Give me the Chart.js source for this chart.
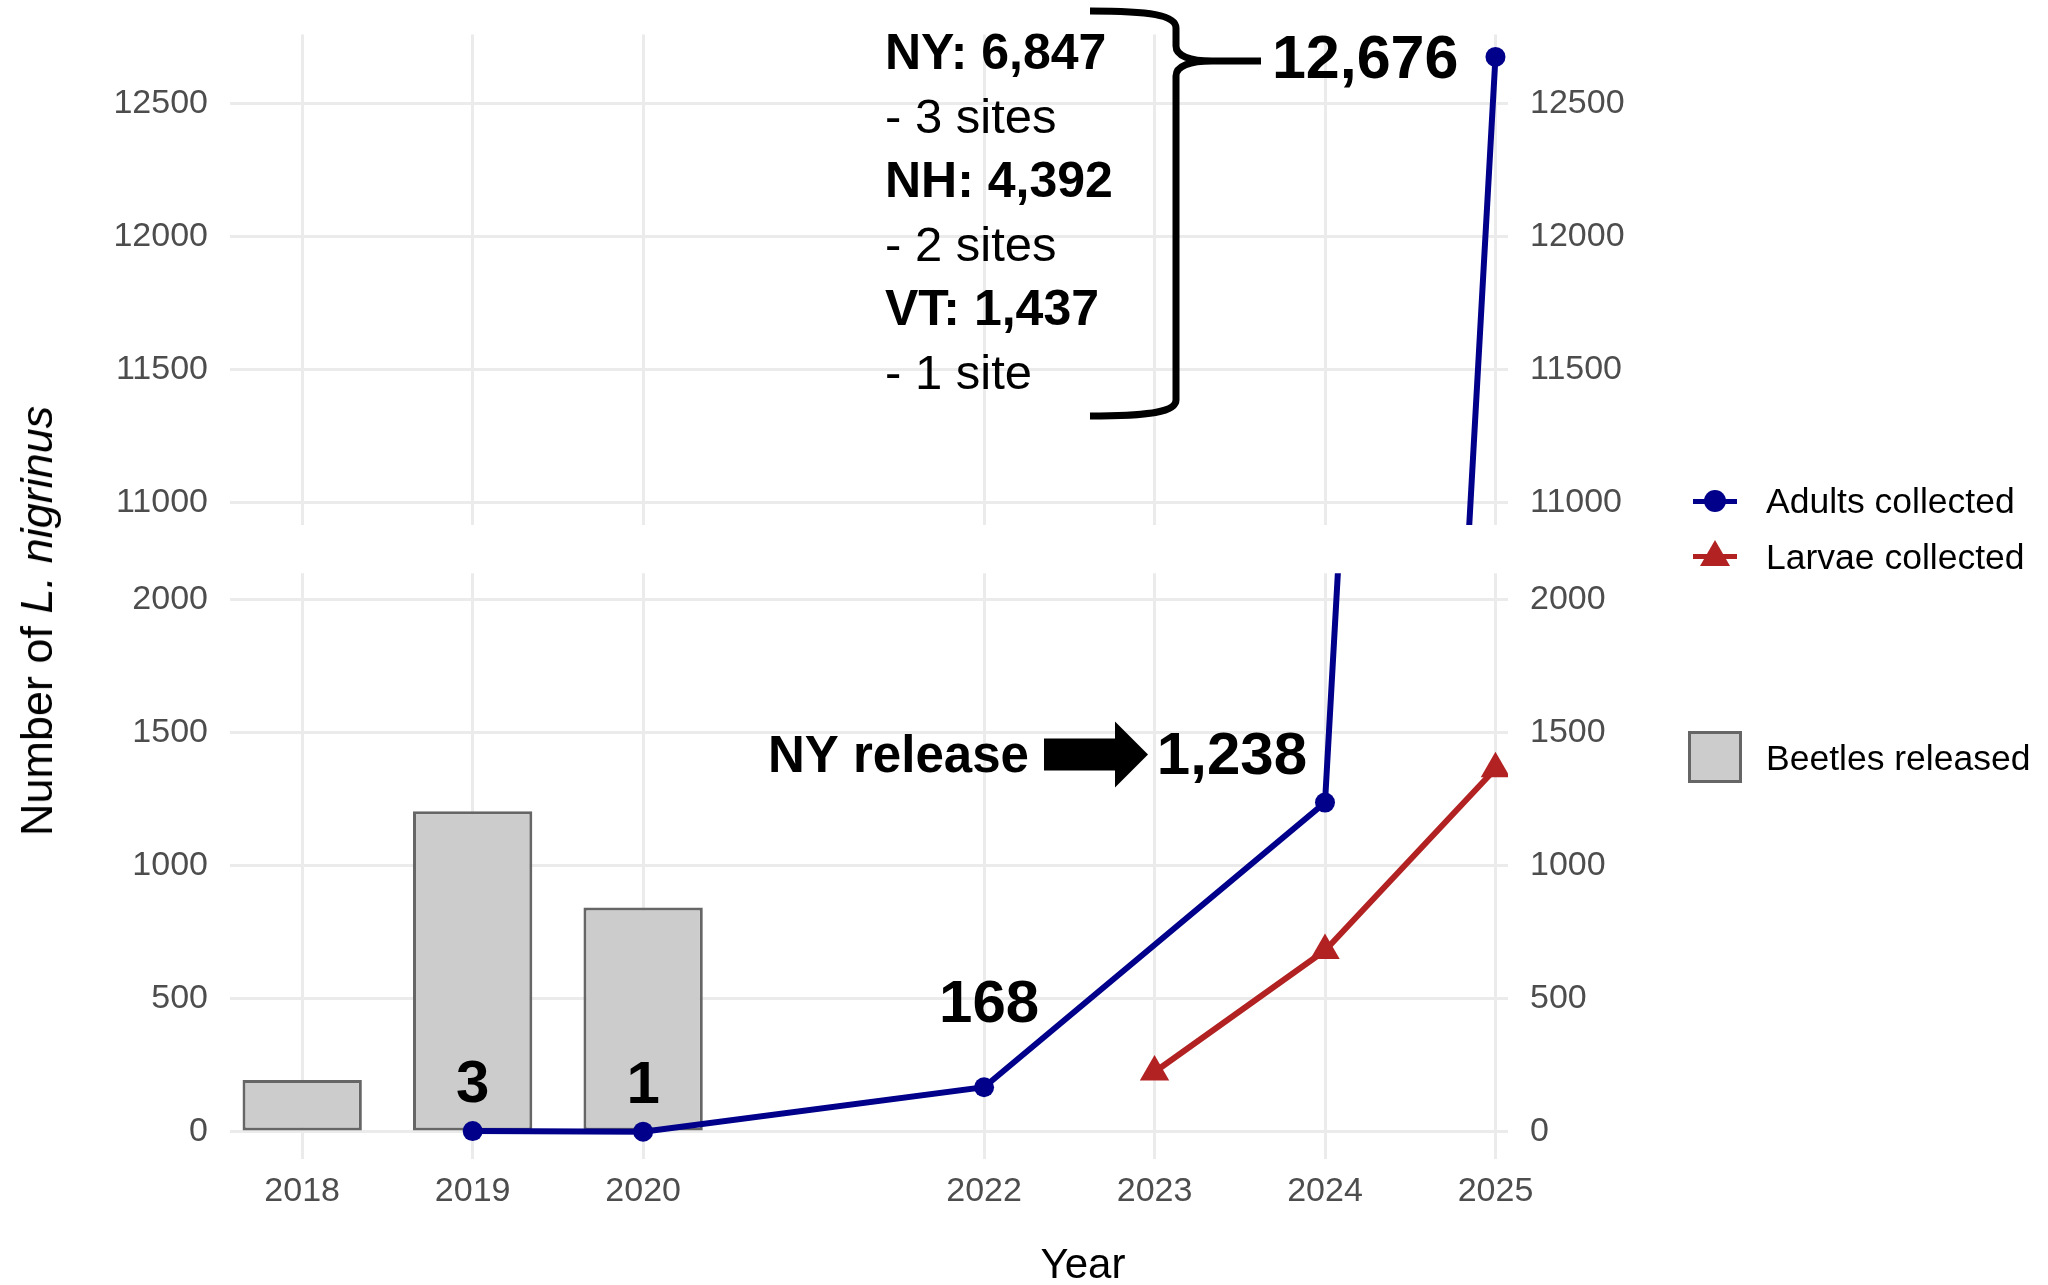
<!DOCTYPE html>
<html>
<head>
<meta charset="utf-8">
<title>L. nigrinus collected and released</title>
<script src="https://cdn.jsdelivr.net/npm/chart.js@4.4.1/dist/chart.umd.min.js"></script>
<style>
    html, body { margin: 0; padding: 0; background: #ffffff; }
    #Wrap { position: relative; width: 2048px; height: 1285px; overflow: hidden; font-family: "Liberation Sans", Arial, sans-serif; }
    #TopCanvas { position: absolute; left: 0; top: 0; }
    #BottomCanvas { position: absolute; left: 0; top: 560px; }
    .axisTitle { position: absolute; color: #000; white-space: nowrap; transform: translate(-50%, -50%); }
    .legendText { position: absolute; left: 1766px; height: 40px; line-height: 40px; font-size: 35.5px; color: #000; white-space: nowrap; }
    .legendLine { position: absolute; left: 1693px; width: 44px; height: 5px; }
</style>
</head>
<body>
<div id="Wrap">
    <canvas id="TopCanvas" width="2048" height="560"></canvas>
    <canvas id="BottomCanvas" width="2048" height="725"></canvas>

    <div class="axisTitle" style="left:37px; top:621px; font-size:45px; transform: translate(-50%, -50%) rotate(-90deg);">Number of <i>L. nigrinus</i></div>
    <div class="axisTitle" style="left:1083px; top:1264px; font-size:42px;">Year</div>

    <!-- legend -->
    <div class="legendLine" style="top:498.5px; background:#00008B;"></div>
    <div style="position:absolute; left:1704px; top:490px; width:22px; height:22px; border-radius:50%; background:#00008B;"></div>
    <div class="legendText" style="top:481px;">Adults collected</div>

    <div class="legendLine" style="top:554px; background:#B22222;"></div>
    <div style="position:absolute; left:1700px; top:540px; width:0; height:0; border-left:15px solid transparent; border-right:15px solid transparent; border-bottom:26px solid #B22222;"></div>
    <div class="legendText" style="top:536.6px;">Larvae collected</div>

    <div style="position:absolute; left:1688px; top:731px; width:54px; height:52px; box-sizing:border-box; background:#CCCCCC; border:3px solid #666666;"></div>
    <div class="legendText" style="top:737.6px;">Beetles released</div>
</div>

<script>
// Data
const tickYears = [2018, 2019, 2020, 2022, 2023, 2024, 2025];
const releaseYears = [2018, 2019, 2020];
const beetlesReleased = [195, 1205, 844];
const adultYears = [2019, 2020, 2022, 2024, 2025];
const adultsCollected = [3, 1, 168, 1238, 12676];
const larvaeYears = [2023, 2024, 2025];
const larvaeCollected = [225, 682, 1365];
const lowerTicks = [0, 500, 1000, 1500, 2000];
const upperTicks = [11000, 11500, 12000, 12500];
const stateNames = ['NY', 'NH', 'VT'];
const stateCounts = [6847, 4392, 1437];
const stateSites = [3, 2, 1];

const FONT = '"Liberation Sans", Arial, sans-serif';
const NAVY = '#00008B';
const RED = '#B22222';
const GRID = '#EBEBEB';

// value labels, the "NY release" arrow
const LowerNotes =
{
    id: 'lowerNotes',
    afterDatasetsDraw(chart)
    {
        const ctx = chart.ctx;
        const x = chart.scales.x;
        const y = chart.scales.y;
        const area = chart.chartArea;

        ctx.save();
        ctx.fillStyle = '#000';
        ctx.font = 'bold 60px ' + FONT;
        ctx.textBaseline = 'alphabetic';

        adultYears.forEach((yr, i) =>
        {
            const v = adultsCollected[i];
            const px = x.getPixelForValue(yr);
            const py = y.getPixelForValue(v);
            if (py < area.top) return;
            const text = v.toLocaleString('en-US');
            if (v >= 1000)
            {
                ctx.textAlign = 'right';
                ctx.fillText(text, px - 18, py - 29);
            }
            else if (v >= 100)
            {
                ctx.textAlign = 'center';
                ctx.fillText(text, px + 5, py - 65);
            }
            else
            {
                ctx.textAlign = 'center';
                ctx.fillText(text, px, py - 29);
            }
        });

        // NY release -> arrow pointing at the 2024 count
        const tipX = x.getPixelForValue(2024) - 177;
        const midY = y.getPixelForValue(1238) - 48;
        ctx.textAlign = 'left';
        ctx.font = 'bold 51px ' + FONT;
        ctx.fillText('NY release', tipX - 380, midY + 17);

        ctx.beginPath();
        ctx.moveTo(tipX - 104, midY - 16);
        ctx.lineTo(tipX - 33, midY - 16);
        ctx.lineTo(tipX - 33, midY - 33);
        ctx.lineTo(tipX, midY);
        ctx.lineTo(tipX - 33, midY + 33);
        ctx.lineTo(tipX - 33, midY + 16);
        ctx.lineTo(tipX - 104, midY + 16);
        ctx.closePath();
        ctx.fill();
        ctx.restore();
    }
};

// total for 2025, brace and the per-state breakdown
const UpperNotes =
{
    id: 'upperNotes',
    afterDatasetsDraw(chart)
    {
        const ctx = chart.ctx;
        const x = chart.scales.x;
        const y = chart.scales.y;

        const last = adultsCollected.length - 1;
        const px = x.getPixelForValue(adultYears[last]);
        const py = y.getPixelForValue(adultsCollected[last]);

        ctx.save();
        ctx.fillStyle = '#000';
        ctx.textBaseline = 'alphabetic';
        ctx.textAlign = 'right';
        ctx.font = 'bold 61px ' + FONT;
        ctx.fillText(adultsCollected[last].toLocaleString('en-US'), px - 37, py + 21);

        // breakdown by state
        ctx.textAlign = 'left';
        stateNames.forEach((name, i) =>
        {
            const base = 69 + i * 128;
            ctx.font = 'bold 50px ' + FONT;
            ctx.fillText(name + ': ' + stateCounts[i].toLocaleString('en-US'), 885, base);
            ctx.font = '49px ' + FONT;
            const n = stateSites[i];
            ctx.fillText('- ' + n + (n === 1 ? ' site' : ' sites'), 885, base + 64);
        });

        // curly brace
        ctx.strokeStyle = '#000';
        ctx.lineWidth = 7;
        ctx.lineJoin = 'round';
        ctx.beginPath();
        ctx.moveTo(1090, 11);
        ctx.bezierCurveTo(1150, 11, 1176, 15, 1176, 28);
        ctx.lineTo(1176, 46);
        ctx.bezierCurveTo(1176, 56, 1190, 61, 1212, 61);
        ctx.lineTo(1261, 61);
        ctx.moveTo(1212, 61);
        ctx.bezierCurveTo(1190, 61, 1176, 66, 1176, 76);
        ctx.lineTo(1176, 400);
        ctx.bezierCurveTo(1176, 412, 1150, 416, 1090, 416);
        ctx.stroke();
        ctx.restore();
    }
};

function Initialize()
{
    Chart.defaults.font.family = FONT;

    // ggplot style limits: bars are 0.7 wide, x expanded 1%, y expanded 5%
    const xLow = Math.min(...releaseYears) - 0.35;
    const xHigh = Math.max(...adultYears);
    const xPad = (xHigh - xLow) * 0.01;
    const xRange = [xLow - xPad, xHigh + xPad];

    const lowRange = Expand(Math.min(...lowerTicks), Math.max(...lowerTicks));
    const highRange = Expand(Math.min(...upperTicks), Math.max(...adultsCollected));

    const top = CreateChart(document.getElementById('TopCanvas'), false, xRange, highRange, upperTicks, UpperNotes,
        { left: 0, right: 340, top: 34.6, bottom: 35 });
    const bottom = CreateChart(document.getElementById('BottomCanvas'), true, xRange, lowRange, lowerTicks, LowerNotes,
        { left: 0, right: 340, top: 13.3, bottom: 26.5 });

    // pin the two panels to where they sit in the figure
    FitArea(top, 34.6, 525);
    FitArea(bottom, 13.3, 598.5);
}

function FitArea(chart, wantTop, wantBottom)
{
    for (let i = 0; i < 2; i++)
    {
        const a = chart.chartArea;
        if (Math.abs(a.top - wantTop) < 0.5 && Math.abs(a.bottom - wantBottom) < 0.5) return;
        const p = Object.assign({}, chart.config.options.layout.padding);
        p.top += wantTop - a.top;
        p.bottom += a.bottom - wantBottom;
        chart.options.layout.padding = p;
        chart.update();
    }
}

function Expand(lo, hi)
{
    const pad = (hi - lo) * 0.05;
    return [lo - pad, hi + pad];
}

function Points(xs, ys)
{
    return xs.map((x, i) => ({ x: x, y: ys[i] }));
}

function YAxis(position, ticks, range)
{
    return {
        type: 'linear',
        position: position,
        min: range[0],
        max: range[1],
        afterBuildTicks: s => { s.ticks = ticks.map(v => ({ value: v })); },
        afterFit: s =>
        {
            s.width = position === 'left' ? 230 : 200;
            // labels never reach the panel edges, so no extra room is needed
            s.paddingTop = 0;
            s.paddingBottom = 0;
        },
        grid: { display: position === 'left', color: GRID, lineWidth: 3, drawTicks: false },
        border: { display: false },
        ticks: { padding: 22, color: '#4D4D4D', font: { size: 34 }, callback: v => String(v) }
    };
}

function CreateChart(canvas, isBottom, xRange, yRange, yTicks, notesPlugin, padding)
{
    const datasets =
    [
        {
            type: 'line',
            label: 'Adults collected',
            data: Points(adultYears, adultsCollected),
            borderColor: NAVY,
            backgroundColor: NAVY,
            borderWidth: 6,
            pointRadius: 10,
            pointBorderWidth: 0,
            tension: 0,
            order: 0
        },
        {
            type: 'line',
            label: 'Larvae collected',
            data: Points(larvaeYears, larvaeCollected),
            borderColor: RED,
            backgroundColor: RED,
            borderWidth: 6,
            pointStyle: 'triangle',
            pointRadius: 17,
            pointBorderWidth: 0,
            tension: 0,
            order: 1
        }
    ];

    if (isBottom)
    {
        datasets.push(
        {
            type: 'bar',
            label: 'Beetles released',
            data: Points(releaseYears, beetlesReleased),
            backgroundColor: '#CCCCCC',
            borderColor: '#666666',
            borderWidth: 3,
            borderSkipped: false,
            barPercentage: 1,
            categoryPercentage: 0.7,
            order: 2
        });
    }

    return new Chart(canvas,
    {
        data: { datasets: datasets },
        options:
        {
            responsive: false,
            animation: false,
            layout: { autoPadding: false, padding: padding },
            plugins: { legend: { display: false }, tooltip: { enabled: false } },
            scales:
            {
                x:
                {
                    type: 'linear',
                    offset: false,
                    min: xRange[0],
                    max: xRange[1],
                    afterBuildTicks: s => { s.ticks = tickYears.map(v => ({ value: v })); },
                    afterFit: s =>
                    {
                        s.height = isBottom ? 100 : 0;
                        s.paddingLeft = 0;
                        s.paddingRight = 0;
                    },
                    grid: { offset: false, color: GRID, lineWidth: 3, drawTicks: false },
                    border: { display: false },
                    ticks:
                    {
                        display: isBottom,
                        padding: 13,
                        autoSkip: false,
                        maxRotation: 0,
                        color: '#4D4D4D',
                        font: { size: 34 },
                        callback: v => String(v)
                    }
                },
                y: YAxis('left', yTicks, yRange),
                y2: YAxis('right', yTicks, yRange)
            }
        },
        plugins: [notesPlugin]
    });
}

Initialize();
</script>
</body>
</html>
